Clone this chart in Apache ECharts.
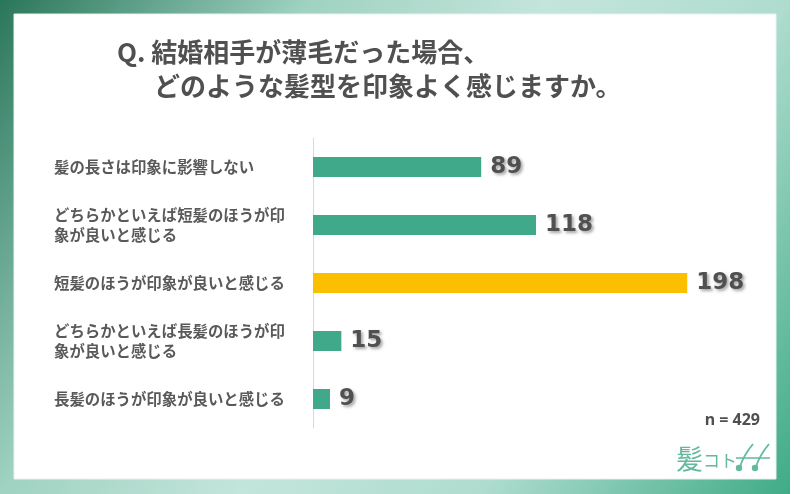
<!DOCTYPE html>
<html>
<head>
<meta charset="utf-8">
<script src="https://cdn.jsdelivr.net/npm/echarts@6/dist/echarts.min.js"></script>
<style>
html,body{margin:0;padding:0;background:#fff;}
#chart{width:800px;height:494px;}
</style>
</head>
<body>
<div id="chart"></div>
<script>
var titleLine1 = 'Q. 結婚相手が薄毛だった場合、';
var titleLine2 = 'どのような髪型を印象よく感じますか。';
var categories = [
  '髪の長さは印象に影響しない',
  'どちらかといえば短髪のほうが印象が良いと感じる',
  '短髪のほうが印象が良いと感じる',
  'どちらかといえば長髪のほうが印象が良いと感じる',
  '長髪のほうが印象が良いと感じる'
];
var values = [89, 118, 198, 15, 9];
var highlighted = '短髪のほうが印象が良いと感じる';
var sampleNote = 'n = 429';

var chart = echarts.init(document.getElementById('chart'), null, {renderer: 'canvas'});
var cjk = '"Noto Sans CJK JP", "Noto Sans", sans-serif';
var logoColor = '#62b99d';

var option = {
  animation: false,
  grid: {left: 313, right: 109, top: 138, bottom: 66, containLabel: false},
  xAxis: {type: 'value', min: 0, max: 200, show: false},
  yAxis: {
    type: 'category',
    data: categories,
    inverse: true,
    axisLine: {show: true, lineStyle: {color: '#d9d9d9', width: 1}},
    axisTick: {show: false},
    splitLine: {show: false},
    axisLabel: {
      align: 'left',
      margin: 259,
      width: 238,
      overflow: 'break',
      lineHeight: 20,
      fontSize: 15.4,
      fontWeight: 'bold',
      color: '#595959',
      fontFamily: cjk
    }
  },
  series: [{
    type: 'bar',
    data: values,
    barWidth: 20,
    itemStyle: {
      color: function (p) { return categories[p.dataIndex] === highlighted ? '#fbbf00' : '#40a98a'; }
    },
    label: {
      show: true,
      position: 'right',
      distance: 9,
      fontSize: 23,
      fontWeight: 'bold',
      fontFamily: '"DejaVu Sans", sans-serif',
      color: '#505050',
      textShadowColor: 'rgba(0,0,0,0.35)',
      textShadowBlur: 3,
      textShadowOffsetX: 2,
      textShadowOffsetY: 2
    }
  }],
  graphic: [
    {
      type: 'rect', z: -10, silent: true,
      shape: {x: 0, y: 0, width: 790, height: 494},
      style: {
        fill: new echarts.graphic.LinearGradient(0, 0, 1, 1, [
          {offset: 0, color: '#2a765b'},
          {offset: 0.28, color: '#9fd2c1'},
          {offset: 0.5, color: '#c3e5db'},
          {offset: 0.72, color: '#aedccf'},
          {offset: 1, color: '#3fab86'}
        ])
      }
    },
    {
      type: 'rect', z: -9, silent: true,
      shape: {x: 14, y: 14, width: 762, height: 465},
      style: {fill: '#ffffff', stroke: '#e8f3ef', lineWidth: 1}
    },
    {
      type: 'text', z: 10,
      style: {text: titleLine1, x: 117, y: 52, fill: '#505050', font: 'bold 26px ' + cjk, textVerticalAlign: 'middle', textAlign: 'left'}
    },
    {
      type: 'text', z: 10,
      style: {text: titleLine2, x: 154, y: 86, fill: '#505050', font: 'bold 26px ' + cjk, textVerticalAlign: 'middle', textAlign: 'left'}
    },
    {
      type: 'text', z: 10,
      style: {text: sampleNote, x: 760, y: 420, fill: '#505050', font: 'bold 16px "Noto Sans", sans-serif', textVerticalAlign: 'middle', textAlign: 'right'}
    },
    {
      type: 'text', z: 10,
      style: {text: '髪', x: 676, y: 459, fill: logoColor, font: '27px ' + cjk, textVerticalAlign: 'middle', textAlign: 'left'}
    },
    {
      type: 'text', z: 10,
      style: {text: 'コト', x: 703, y: 461, fill: logoColor, font: '17px ' + cjk, textVerticalAlign: 'middle', textAlign: 'left'}
    },
    {type: 'line', z: 10, shape: {x1: 736, y1: 458, x2: 770, y2: 458}, style: {stroke: logoColor, lineWidth: 1.5}},
    {type: 'bezierCurve', z: 10, shape: {x1: 740, y1: 467, cpx1: 743, cpy1: 456, x2: 753, y2: 444}, style: {stroke: logoColor, lineWidth: 1.8, fill: null}},
    {type: 'bezierCurve', z: 10, shape: {x1: 756, y1: 467, cpx1: 759, cpy1: 456, x2: 769, y2: 444}, style: {stroke: logoColor, lineWidth: 1.8, fill: null}},
    {type: 'circle', z: 10, shape: {cx: 739, cy: 468, r: 3.2}, style: {fill: logoColor}},
    {type: 'circle', z: 10, shape: {cx: 755, cy: 468, r: 3.2}, style: {fill: logoColor}}
  ]
};
chart.setOption(option);
</script>
</body>
</html>
